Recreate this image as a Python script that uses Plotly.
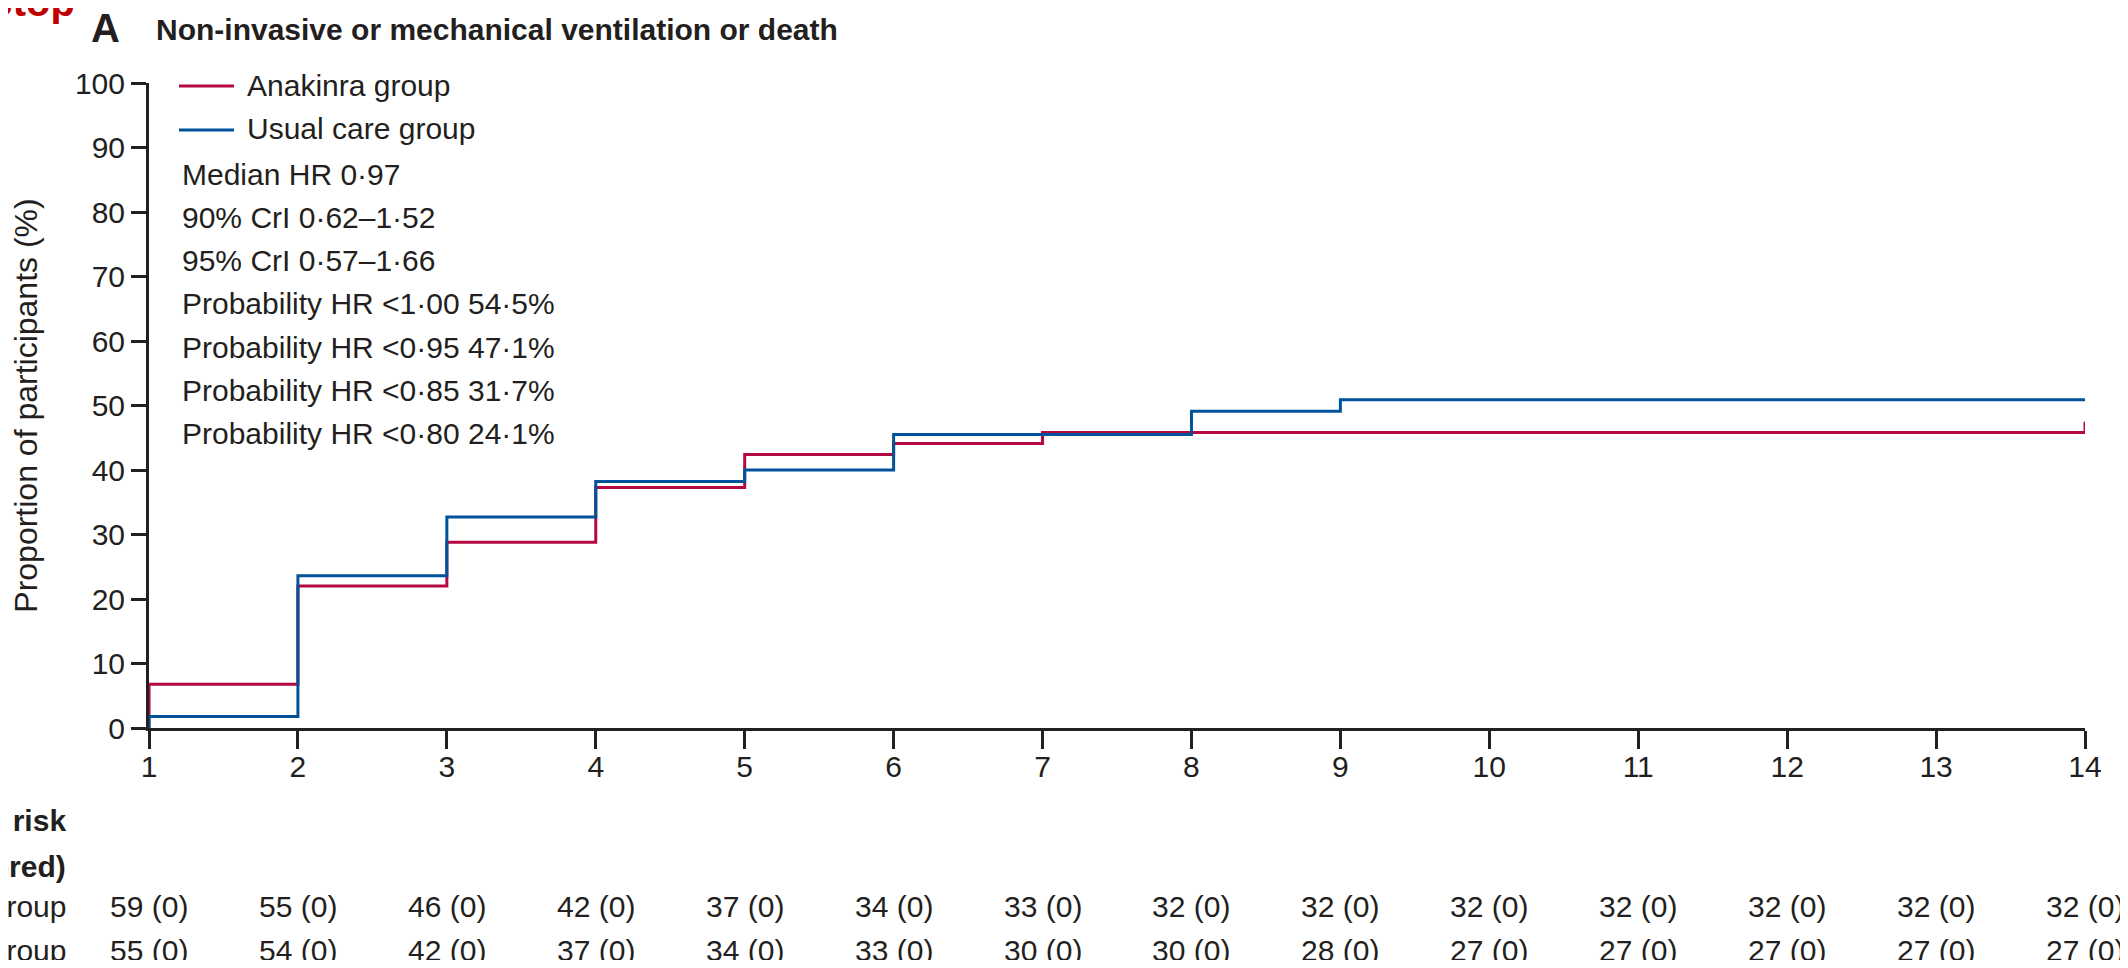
import plotly.graph_objects as go

# ---------------- data ----------------
days = [1, 2, 3, 4, 5, 6, 7, 8, 9, 10, 11, 12, 13, 14]
anakinra_pct = [6.8, 22.0, 28.8, 37.3, 42.4, 44.1, 45.8, 45.8, 45.8, 45.8, 45.8, 45.8, 45.8, 47.5]
usual_pct = [1.8, 23.6, 32.7, 38.2, 40.0, 45.5, 45.5, 49.1, 50.9, 50.9, 50.9, 50.9, 50.9, 50.9]

anakinra_at_risk = [59, 55, 46, 42, 37, 34, 33, 32, 32, 32, 32, 32, 32, 32]
anakinra_censored = [0, 0, 0, 0, 0, 0, 0, 0, 0, 0, 0, 0, 0, 0]
usual_at_risk = [55, 54, 42, 37, 34, 33, 30, 30, 28, 27, 27, 27, 27, 27]
usual_censored = [0, 0, 0, 0, 0, 0, 0, 0, 0, 0, 0, 0, 0, 0]

y_ticks = [0, 10, 20, 30, 40, 50, 60, 70, 80, 90, 100]

series_names = ["Anakinra group", "Usual care group"]
stats_lines = [
    "Median HR 0·97",
    "90% CrI 0·62–1·52",
    "95% CrI 0·57–1·66",
    "Probability HR <1·00 54·5%",
    "Probability HR <0·95 47·1%",
    "Probability HR <0·85 31·7%",
    "Probability HR <0·80 24·1%",
]
risk_header = ["Number at risk", "(number censored)"]

title_letter = "A"
title_text = "Non-invasive or mechanical ventilation or death"
y_title = "Proportion of participants (%)"
stray_text = "Stop"

# ---------------- style ----------------
RED = "#B5093F"
BLUE = "#00539B"
INK = "#231F20"
FONT = "Liberation Sans, Arial, sans-serif"

OFF = 8                      # page body margin
W, H = 2128 - 2 * OFF, 968 - 2 * OFF
# plot area in page pixels
PAGE_L, PAGE_R, PAGE_T, PAGE_B = 149, 2085, 83, 728
PL, PR, PT, PB = PAGE_L - OFF, PAGE_R - OFF, PAGE_T - OFF, PAGE_B - OFF


def px_x(page_px):
    return (page_px - OFF - PL) / (PR - PL)


def px_y(page_py):
    return (PB - (page_py - OFF)) / (PB - PT)


fig = go.Figure()

for name, vals, col in [(series_names[0], anakinra_pct, RED), (series_names[1], usual_pct, BLUE)]:
    fig.add_trace(go.Scatter(
        x=[days[0]] + days,
        y=[0] + vals,
        mode="lines",
        line=dict(color=col, width=3, shape="hv"),
        name=name,
        showlegend=False,
        hoverinfo="skip",
    ))

ann = []
shapes = []

# stray red text at top-left (cropped in reference)
ann.append(dict(text="<b>%s</b>" % stray_text, x=px_x(77), y=px_y(2), xref="paper", yref="paper",
                xanchor="right", yanchor="middle", showarrow=False,
                font=dict(family=FONT, size=40, color="#C00000")))
# panel letter and title
ann.append(dict(text="<b>%s</b>" % title_letter, x=px_x(122), y=px_y(28), xref="paper", yref="paper",
                xanchor="right", yanchor="middle", showarrow=False,
                font=dict(family=FONT, size=40, color=INK)))
ann.append(dict(text="<b>%s</b>" % title_text, x=px_x(154), y=px_y(30), xref="paper", yref="paper",
                xanchor="left", yanchor="middle", showarrow=False,
                font=dict(family=FONT, size=30, color=INK)))

# legend (key lines + labels)
leg_y = [86, 130]
for name, col, ly in zip(series_names, [RED, BLUE], leg_y):
    shapes.append(dict(type="line", xref="paper", yref="paper",
                       x0=px_x(179), x1=px_x(234), y0=px_y(ly), y1=px_y(ly),
                       line=dict(color=col, width=3)))
    ann.append(dict(text=name, x=px_x(245), y=px_y(ly - 1), xref="paper", yref="paper",
                    xanchor="left", yanchor="middle", showarrow=False,
                    font=dict(family=FONT, size=30, color=INK)))

# statistics text
for i, line in enumerate(stats_lines):
    ann.append(dict(text=line, x=px_x(180), y=px_y(174 + i * 43.3), xref="paper", yref="paper",
                    xanchor="left", yanchor="middle", showarrow=False,
                    font=dict(family=FONT, size=30, color=INK)))

# number at risk table
for txt, cy in zip(risk_header, [821, 866]):
    ann.append(dict(text="<b>%s</b>" % txt, x=px_x(68), y=px_y(cy), xref="paper", yref="paper",
                    xanchor="right", yanchor="middle", showarrow=False,
                    font=dict(family=FONT, size=30, color=INK)))

rows = [(series_names[0], anakinra_at_risk, anakinra_censored, 906),
        (series_names[1], usual_at_risk, usual_censored, 950)]
for name, risk, cens, cy in rows:
    ann.append(dict(text=name, x=px_x(68), y=px_y(cy), xref="paper", yref="paper",
                    xanchor="right", yanchor="middle", showarrow=False,
                    font=dict(family=FONT, size=30, color=INK)))
    for d, r, c in zip(days, risk, cens):
        ann.append(dict(text="%d (%d)" % (r, c), x=d, y=px_y(cy), xref="x", yref="paper",
                        xanchor="center", yanchor="middle", showarrow=False,
                        font=dict(family=FONT, size=30, color=INK)))

fig.update_layout(
    width=W, height=H,
    margin=dict(l=PL, r=W - PR, t=PT, b=H - PB, pad=0),
    paper_bgcolor="white", plot_bgcolor="white",
    font=dict(family=FONT, size=30, color=INK),
    annotations=ann, shapes=shapes,
    showlegend=False,
)
fig.update_xaxes(
    range=[days[0], days[-1]], tickvals=days, ticktext=[str(d) for d in days],
    showline=True, linewidth=3, linecolor=INK, ticks="outside", ticklen=18, tickwidth=3,
    tickcolor=INK, showgrid=False, zeroline=False, tickfont=dict(size=30, color=INK),
    ticklabelstandoff=-8,
)
fig.update_yaxes(
    range=[0, 100], tickvals=y_ticks, ticktext=[str(v) for v in y_ticks],
    showline=True, linewidth=3, linecolor=INK, ticks="outside", ticklen=15, tickwidth=3,
    tickcolor=INK, showgrid=False, zeroline=False, tickfont=dict(size=30, color=INK),
    title=dict(text=y_title, font=dict(size=32, color=INK), standoff=32),
)

fig.write_html("out.html")
